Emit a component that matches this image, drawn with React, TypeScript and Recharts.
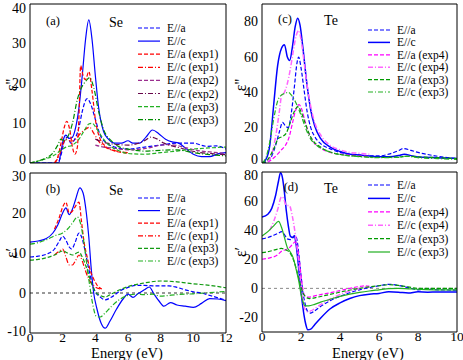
import React from 'react';
import { LineChart, Line, XAxis, YAxis, ReferenceLine } from 'recharts';

type Pt = [number, number];

// ---- Se, imaginary part (panel a) ----
const seImA: Pt[] = [[0,0],[1.7,0],[1.9,2],[2.1,5.5],[2.3,6.5],[2.5,5],[2.8,6.5],[3.0,9],[3.2,13],[3.5,16.2],[3.7,15],[4.0,11],[4.3,7],[4.7,5],[5.2,4],[6,3.5],[7,4],[8,4.5],[9,5],[10,5],[10.8,4.2],[11.4,4.3],[12,3.5]];
const seImC: Pt[] = [[0,0],[1.75,0],[1.9,3],[2.05,6],[2.2,7],[2.4,6.2],[2.6,6.5],[2.8,9],[3.0,14],[3.2,22],[3.4,31],[3.6,36],[3.8,31],[4.0,22],[4.2,14],[4.5,8],[4.8,6],[5.2,5],[5.6,5],[6.0,5.6],[6.3,5],[6.7,5],[7.1,6.5],[7.5,8.3],[7.9,7.3],[8.3,6],[8.7,5.3],[9.1,5],[9.5,3.8],[10,2.2],[10.5,1.6],[11,1.6],[11.5,2.3],[12,2.6]];
const seImAExp1: Pt[] = [[1.5,0],[1.7,1.5],[1.9,5],[2.1,9],[2.25,10.5],[2.45,8],[2.6,4],[2.75,2.2],[2.9,4],[3.0,12],[3.1,24.5],[3.25,22],[3.4,21],[3.6,23],[3.8,18],[4.0,11],[4.3,6],[4.7,4],[5.2,3],[5.7,2.6],[6,2.5]];
const seImCExp1: Pt[] = [[1.5,0],[1.8,2],[2.0,4.5],[2.2,6],[2.5,5.5],[2.8,6],[3.1,7.5],[3.4,8.5],[3.65,9],[3.9,7.5],[4.2,5.5],[4.6,4],[5.1,3.2],[5.6,2.8],[6,2.6]];
const seImAExp2: Pt[] = [[4,4.5],[4.5,4],[5,3.8],[5.5,3.5],[6,3.3],[6.5,3.4],[7,3.6],[7.5,4],[8,4.5],[8.5,4.6],[9,4.4],[9.5,3.9],[10,3.4],[10.5,3],[11,2.8],[11.5,2.6],[12,2.4]];
const seImCExp2: Pt[] = [[4,6],[4.5,5.2],[5,4.8],[5.5,4.6],[6,4.5],[6.5,4.8],[7,5.6],[7.4,6.5],[7.8,6],[8.2,5],[8.7,4.3],[9.2,3.8],[9.7,3.2],[10.3,2.7],[11,2.4],[11.5,2.2],[12,2.1]];
const seImAExp3: Pt[] = [[0,0],[0.5,0.5],[1,1.1],[1.5,2],[1.9,3.2],[2.2,4],[2.6,4.5],[3.0,6],[3.3,8],[3.6,9.8],[3.8,10],[4.1,8.5],[4.5,6],[5,4],[5.5,3],[6,2.4],[7,2.2],[8,2.6],[9,3],[10,3.5],[11,3.8],[12,4]];
const seImCExp3: Pt[] = [[0,0],[0.5,0.5],[1,1.3],[1.4,2.5],[1.7,4.5],[1.9,6],[2.1,5.5],[2.3,6.5],[2.6,10],[2.9,16],[3.1,18.5],[3.4,20.5],[3.65,21.5],[3.9,19],[4.2,13],[4.5,8.5],[5,5.5],[5.5,4],[6,3.5],[7,3],[8,3.2],[9,3.3],[10,2.6],[11,2.1],[12,1.8]];

// ---- Se, real part (panel b) ----
const seReA: Pt[] = [[0,9],[0.5,9.2],[1,9.7],[1.5,11],[1.8,13],[2.0,14.2],[2.2,13.2],[2.4,11.5],[2.55,11],[2.75,12.5],[3.0,15],[3.2,13.5],[3.4,10],[3.6,6],[3.8,2.5],[4.0,0.3],[4.3,-1],[4.6,-1.7],[5,-1],[5.5,0.5],[6,1.4],[6.5,1.9],[7,1.9],[7.5,1.8],[8,1.8],[8.5,1.8],[9,1.4],[9.5,0.8],[10,0.3],[10.5,0],[11,-0.6],[11.5,-1.2],[12,-1.8]];
const seReC: Pt[] = [[0,12.7],[0.5,13],[1,13.6],[1.4,15],[1.7,17],[2.0,20],[2.2,21.3],[2.4,19.6],[2.6,21],[2.8,23.5],[3.05,26.3],[3.25,25],[3.45,20],[3.6,14],[3.75,6],[3.9,0],[4.1,-4],[4.35,-7.5],[4.6,-8.8],[4.9,-7],[5.3,-4],[5.7,-1.5],[6.0,-0.3],[6.3,-1.1],[6.6,-0.2],[7.0,0.8],[7.3,1.5],[7.6,-0.3],[7.9,-2],[8.2,-3.3],[8.6,-2.4],[9,-3],[9.5,-3.3],[10,-3.6],[10.5,-2.6],[11,-1.4],[11.5,-1.5],[12,-1.9]];
const seReAExp1: Pt[] = [[1.5,16],[1.8,19],[2.0,21.5],[2.2,22.7],[2.4,20],[2.6,20.5],[2.8,21.8],[3.0,22.7],[3.15,18],[3.3,13],[3.5,9],[3.7,5.5],[3.9,3.5],[4.1,2],[4.4,1]];
const seReCExp1: Pt[] = [[1.5,9.5],[1.8,10.5],[2.0,11],[2.2,9],[2.4,7],[2.6,7],[2.8,8.2],[3.0,9.5],[3.2,8],[3.4,5.5],[3.6,3.5],[3.8,2.2],[4.0,1.5],[4.3,1]];
const seReAExp3: Pt[] = [[0,8.2],[0.5,8.4],[1,8.8],[1.5,9.5],[2.0,10.5],[2.3,10],[2.6,9.5],[3.0,10.2],[3.2,9],[3.4,7],[3.6,4.5],[3.8,2],[4.0,0.3],[4.3,-0.6],[4.6,-1],[5,-0.2],[5.5,0.8],[6,1.6],[7,2.5],[8,3],[9,2.8],[10,2.3],[11,1.9],[12,1.3]];
const seReCExp3: Pt[] = [[0,12.2],[0.5,12.6],[1,13.3],[1.5,14.3],[2.0,15],[2.3,16],[2.6,17.5],[2.9,19],[3.05,18],[3.25,14],[3.45,8],[3.65,2],[3.85,-3],[4.05,-5.8],[4.3,-6],[4.6,-5],[5,-3.3],[5.5,-1.6],[6,-0.6],[6.5,-0.3],[7,-0.4],[7.5,-0.3],[8,-0.8],[8.5,-0.6],[9,-0.4],[10,-0.2],[11,0.1],[12,0.4]];

// ---- Te, imaginary part (panel c) ----
const teImA: Pt[] = [[0,0],[0.3,1],[0.5,4],[0.7,10],[0.9,18],[1.05,23],[1.2,21],[1.35,20],[1.5,28],[1.65,42],[1.8,57],[1.88,60],[2.0,54],[2.15,42],[2.3,30],[2.5,20],[2.7,15],[3,11],[3.5,8],[4,6],[4.5,5],[5,4.5],[5.5,4],[6,4],[6.5,5],[7,7],[7.25,8.2],[7.6,7.3],[8,6],[8.5,4.8],[9,3.8],[9.5,3],[10,2.5]];
const teImC: Pt[] = [[0,0],[0.2,2],[0.4,10],[0.6,33],[0.8,55],[1.0,65],[1.15,67],[1.3,60],[1.42,58],[1.55,65],[1.7,77],[1.83,82],[1.95,78],[2.1,65],[2.3,45],[2.5,30],[2.7,21],[3.0,14],[3.5,9],[4,6.5],[4.5,5],[5,4.5],[5.5,4],[6,3.5],[6.5,3.5],[7,4.2],[7.3,5],[7.7,4],[8.2,3.2],[9,3],[10,2.5]];
const teImAExp4: Pt[] = [[0.3,0.5],[0.5,2],[0.8,5],[1.0,7.5],[1.2,10],[1.4,15],[1.55,22],[1.7,29],[1.9,33],[2.05,30],[2.2,24],[2.4,17],[2.6,12.5],[3,8.5],[3.5,6],[4,5],[4.5,4.5],[5,4],[5.5,3.8]];
const teImCExp4: Pt[] = [[0.3,1],[0.5,5],[0.7,15],[0.9,30],[1.0,38],[1.15,40],[1.3,45],[1.45,53],[1.6,63],[1.75,72],[1.88,75],[2.0,70],[2.15,58],[2.3,45],[2.5,32],[2.7,23],[3.0,16],[3.5,10],[4,7.5],[4.5,6],[5,5.5],[5.5,5]];
const teImAExp3: Pt[] = [[0,0],[0.3,2],[0.6,8],[0.85,14],[1.05,15],[1.25,17],[1.45,23],[1.65,29],[1.85,32],[2.0,29],[2.2,23],[2.4,17],[2.6,13],[3,9],[3.5,6.2],[4,4.8],[5,3.7],[6,3.2],[7,3.4],[7.5,3.8],[8,3.5],[9,3],[10,2.5]];
const teImCExp3: Pt[] = [[0,0],[0.2,3],[0.4,12],[0.6,25],[0.8,35],[1.0,38.5],[1.2,39.5],[1.35,40],[1.5,38.5],[1.7,35],[1.9,30],[2.1,24],[2.3,18],[2.5,13.5],[2.8,10],[3.2,7.5],[3.7,5.5],[4.2,4.5],[5,3.6],[6,3],[7,3.2],[7.4,3.8],[8,3],[9,2.5],[10,2]];

// ---- Te, real part (panel d) ----
const teReA: Pt[] = [[0,34],[0.3,35],[0.6,36.5],[0.85,38],[1.0,39],[1.15,37],[1.3,34],[1.45,33.5],[1.6,35],[1.7,36.5],[1.8,33],[1.9,22],[2.0,9],[2.1,-3],[2.2,-10],[2.35,-16],[2.5,-17],[2.7,-15.5],[3,-12.5],[3.5,-8.5],[4,-5.5],[4.5,-3],[5,-1],[5.5,0.5],[6,1.8],[6.5,2.8],[7,2],[7.5,0.5],[8,-1],[8.5,-0.6],[9,-1],[10,-1.2]];
const teReC: Pt[] = [[0,49],[0.3,51],[0.5,55],[0.7,64],[0.85,74],[0.95,79.5],[1.05,76],[1.15,66],[1.25,53],[1.35,43],[1.45,36],[1.55,35],[1.65,36],[1.75,30],[1.85,18],[1.95,4],[2.05,-8],[2.15,-18],[2.25,-25],[2.35,-28.5],[2.5,-28],[2.7,-25],[3,-20.5],[3.5,-14],[4,-10],[4.5,-7],[5,-5],[5.5,-4],[6,-3.5],[6.5,-2.3],[7,-2.6],[7.5,-3.2],[8,-2.4],[8.5,-2.6],[9,-2.5],[10,-2.5]];
const teReAExp4: Pt[] = [[0,20],[0.4,21],[0.8,23],[1.0,25.5],[1.2,26.5],[1.4,28],[1.55,30],[1.7,32],[1.8,29],[1.9,21],[2.0,9],[2.1,-1],[2.2,-5],[2.4,-6],[2.7,-5.2],[3,-4.3],[3.5,-3],[4,-1.5],[4.5,0],[5,1.3],[5.3,1.8],[5.5,1.5]];
const teReCExp4: Pt[] = [[0.4,40],[0.6,46],[0.8,54],[1.0,63],[1.1,62],[1.25,57],[1.4,57],[1.55,50],[1.7,38],[1.85,22],[1.95,8],[2.05,-4],[2.15,-12],[2.3,-16],[2.5,-15.5],[2.8,-13],[3.2,-9.5],[3.7,-6],[4.2,-3.2],[4.7,-1],[5.2,0.5],[5.5,1]];
const teReAExp3: Pt[] = [[0,24.5],[0.4,25.5],[0.8,27],[1.0,27.5],[1.2,26.5],[1.4,25],[1.6,20],[1.75,14],[1.9,6],[2.0,1],[2.1,-3],[2.25,-6],[2.45,-7],[2.8,-6.2],[3.2,-5],[3.7,-3.5],[4.2,-2],[5,0],[5.5,1],[6,1.8],[6.5,2.5],[7,2],[7.5,1],[8,0],[9,0],[10,0]];
const teReCExp3: Pt[] = [[0,36],[0.3,39],[0.6,43],[0.85,46],[1.0,42],[1.15,35],[1.3,28],[1.45,25],[1.6,21],[1.75,13],[1.9,4],[2.0,-4],[2.1,-9],[2.2,-12],[2.4,-12],[2.7,-11],[3,-9.5],[3.5,-7.5],[4,-5.5],[4.5,-4],[5,-2.8],[5.5,-1.8],[6,-1],[6.5,-0.2],[7,0],[7.5,-0.3],[8,-0.6],[9,-1],[10,-1]];

// tick labels
const seXTicks = [0, 2, 4, 6, 8, 10, 12];
const teXTicks = [0, 2, 4, 6, 8, 10];
const seImYTicks = [0, 10, 20, 30, 40];
const seReYTicks = [-10, 0, 10, 20, 30];
const teImYTicks = [0, 20, 40, 60, 80];
const teReYTicks = [-20, 0, 20, 40, 60, 80];

const W = 463;
const H = 360;
const FONT = '"Liberation Serif", "Times New Roman", serif';
const DASH = '4 2';
const DASHDOT = '5 2 1 2';

const steps = (a: number, b: number, s: number) => {
  const out: number[] = [];
  for (let v = a; v <= b + 1e-9; v += s) out.push(Math.round(v * 100) / 100);
  return out;
};

interface Series { name: string; pts: Pt[]; color: string; dash?: string; width?: number; }

const BLUE = '#0000ff';
const seImSeries: Series[] = [
  { name: 'E//a', pts: seImA, color: BLUE, dash: DASH },
  { name: 'E//c', pts: seImC, color: BLUE },
  { name: 'E//a (exp1)', pts: seImAExp1, color: '#ff0000', dash: DASH },
  { name: 'E//c (exp1)', pts: seImCExp1, color: '#ff0000', dash: DASHDOT },
  { name: 'E//a (exp2)', pts: seImAExp2, color: '#9b2f8f', dash: DASH },
  { name: 'E//c (exp2)', pts: seImCExp2, color: '#67074a', dash: DASHDOT },
  { name: 'E//a (exp3)', pts: seImAExp3, color: '#22b022', dash: DASH },
  { name: 'E//c (exp3)', pts: seImCExp3, color: '#008b00', dash: DASHDOT },
];
const seReSeries: Series[] = [
  { name: 'E//a', pts: seReA, color: BLUE, dash: DASH },
  { name: 'E//c', pts: seReC, color: BLUE },
  { name: 'E//a (exp1)', pts: seReAExp1, color: '#ff0000', dash: DASH },
  { name: 'E//c (exp1)', pts: seReCExp1, color: '#ff0000', dash: DASHDOT },
  { name: 'E//a (exp3)', pts: seReAExp3, color: '#129a12', dash: DASH },
  { name: 'E//c (exp3)', pts: seReCExp3, color: '#22b022', dash: DASHDOT },
];
const teImSeries: Series[] = [
  { name: 'E//a', pts: teImA, color: BLUE, dash: DASH },
  { name: 'E//c', pts: teImC, color: BLUE, width: 1.5 },
  { name: 'E//a (exp4)', pts: teImAExp4, color: '#ff00ff', dash: DASH },
  { name: 'E//c (exp4)', pts: teImCExp4, color: '#ff66ff', dash: DASHDOT, width: 1.5 },
  { name: 'E//a (exp3)', pts: teImAExp3, color: '#009a00', dash: DASH },
  { name: 'E//c (exp3)', pts: teImCExp3, color: '#22b022', dash: DASHDOT },
];
const teReSeries: Series[] = [
  { name: 'E//a', pts: teReA, color: BLUE, dash: DASH },
  { name: 'E//c', pts: teReC, color: BLUE, width: 1.5 },
  { name: 'E//a (exp4)', pts: teReAExp4, color: '#ff00ff', dash: DASH },
  { name: 'E//c (exp4)', pts: teReCExp4, color: '#ff66ff', dash: DASHDOT, width: 1.5 },
  { name: 'E//a (exp3)', pts: teReAExp3, color: '#009a00', dash: DASH },
  { name: 'E//c (exp3)', pts: teReCExp3, color: '#22b022' },
];

interface PanelProps {
  box: { left: number; top: number; right: number; bottom: number };
  xDomain: [number, number];
  xMajor: number[];
  xMinor: number[];
  yDomain: [number, number];
  yMajor: number[];
  yMinor: number[];
  showX: boolean;
  series: Series[];
  zero?: string;
}

const black = { stroke: '#000' };
const xLabelStyle = { fill: '#000', fontFamily: FONT, fontSize: 13.5 };

// end labels of stacked panels sit close together, nudge them apart a little
const makeYTick = (domain: [number, number], showX: boolean) => (p: any) => {
  const v = p.payload.value;
  let dy = 0;
  if (v === domain[1]) dy = showX ? 3 : 4;
  if (v === domain[0]) dy = showX ? -2 : -4;
  return (
    <text x={p.x} y={p.y + dy} textAnchor="end" dominantBaseline="central"
      fontFamily={FONT} fontSize={14} fill="#000">{v}</text>
  );
};

// axes with zero size are skipped by recharts, so the helper axes get 1px and sit mirrored inside the frame
const Panel = ({ box, xDomain, xMajor, xMinor, yDomain, yMajor, yMinor, showX, series, zero }: PanelProps) => {
  const margin = { left: box.left - 1, top: box.top, right: W - box.right, bottom: H - box.bottom - 1 };
  const common = { type: 'number' as const, allowDataOverflow: true, interval: 0 as const, tick: false as const };
  return (
    <div style={{ position: 'absolute', left: 0, top: 0 }}>
      <LineChart width={W} height={H} margin={margin}>
        <XAxis xAxisId="x" dataKey="x" type="number" domain={xDomain} ticks={xMajor} allowDataOverflow interval={0}
          height={1} axisLine={false} tickLine={false} tickSize={0} tickMargin={-1}
          tick={showX ? xLabelStyle : false} />
        <XAxis xAxisId="xbM" {...common} domain={xDomain} ticks={xMajor} orientation="bottom" mirror height={1} tickSize={6} tickLine={black} axisLine={black} />
        <XAxis xAxisId="xbm" {...common} domain={xDomain} ticks={xMinor} orientation="bottom" mirror height={1} tickSize={3} tickLine={black} axisLine={false} />
        <XAxis xAxisId="xtM" {...common} domain={xDomain} ticks={xMajor} orientation="top" mirror height={1} tickSize={6} tickLine={black} axisLine={black} />
        <XAxis xAxisId="xtm" {...common} domain={xDomain} ticks={xMinor} orientation="top" mirror height={1} tickSize={3} tickLine={black} axisLine={false} />
        <YAxis yAxisId="y" type="number" domain={yDomain} ticks={yMajor} allowDataOverflow interval={0}
          width={1} axisLine={false} tickLine={false} tickSize={0} tickMargin={4} tick={makeYTick(yDomain, showX)} />
        <YAxis yAxisId="ylM" {...common} domain={yDomain} ticks={yMajor} orientation="left" mirror width={1} tickSize={6} tickLine={black} axisLine={black} />
        <YAxis yAxisId="ylm" {...common} domain={yDomain} ticks={yMinor} orientation="left" mirror width={1} tickSize={3} tickLine={black} axisLine={false} />
        <YAxis yAxisId="yrM" {...common} domain={yDomain} ticks={yMajor} orientation="right" mirror width={1} tickSize={6} tickLine={black} axisLine={black} />
        <YAxis yAxisId="yrm" {...common} domain={yDomain} ticks={yMinor} orientation="right" mirror width={1} tickSize={3} tickLine={black} axisLine={false} />
        {zero && <ReferenceLine xAxisId="x" yAxisId="y" y={0} stroke={zero} strokeDasharray="3 3" />}
        {series.map((s) => (
          <Line key={s.name} xAxisId="x" yAxisId="y" type="monotone" data={s.pts.map(([x, y]) => ({ x, y }))}
            dataKey="y" stroke={s.color} strokeWidth={s.width ?? 1.2} strokeDasharray={s.dash}
            dot={false} activeDot={false} isAnimationActive={false} />
        ))}
      </LineChart>
    </div>
  );
};

const LegendBox = ({ series, x, y, step }: { series: Series[]; x: number; y: number; step: number }) => (
  <g>
    {series.map((s, i) => (
      <g key={s.name}>
        <line x1={x} x2={x + 22} y1={y + i * step} y2={y + i * step} stroke={s.color}
          strokeWidth={s.width ?? 1.2} strokeDasharray={s.dash} />
        <text x={x + 29} y={y + i * step + 4} fontFamily={FONT} fontSize={11.5} fill="#000">{s.name}</text>
      </g>
    ))}
  </g>
);

const Txt = ({ x, y, size, children, rotate }: { x: number; y: number; size: number; children: React.ReactNode; rotate?: boolean }) => (
  <text x={x} y={y} fontFamily={FONT} fontSize={size} fill="#000" textAnchor="middle"
    dominantBaseline="central" transform={rotate ? `rotate(-90 ${x} ${y})` : undefined}>{children}</text>
);

const AxisTitle = ({ x, children }: { x: number; children: React.ReactNode }) => (
  <text x={x} y={357.5} fontFamily={FONT} fontSize={14.5} fill="#000" textAnchor="middle">{children}</text>
);

export default function App() {
  const seXMinor = steps(0, 12, 0.5);
  const teXMinor = steps(0, 10, 0.4);
  return (
    <div style={{ position: 'absolute', left: 0, top: 0, width: W, height: H, background: '#fff' }}>
      <Panel box={{ left: 30, top: 4, right: 226, bottom: 163 }} xDomain={[0, 12]} xMajor={seXTicks} xMinor={seXMinor}
        yDomain={[0, 40]} yMajor={seImYTicks} yMinor={steps(0, 40, 2.5)} showX={false} series={seImSeries} />
      <Panel box={{ left: 30, top: 173, right: 226, bottom: 333 }} xDomain={[0, 12]} xMajor={seXTicks} xMinor={seXMinor}
        yDomain={[-10, 30]} yMajor={seReYTicks} yMinor={steps(-10, 30, 2.5)} showX series={seReSeries} zero="#333" />
      <Panel box={{ left: 262, top: 4, right: 457, bottom: 163 }} xDomain={[0, 10]} xMajor={teXTicks} xMinor={teXMinor}
        yDomain={[0, 90]} yMajor={teImYTicks} yMinor={steps(0, 90, 5)} showX={false} series={teImSeries} />
      <Panel box={{ left: 262, top: 172, right: 457, bottom: 332 }} xDomain={[0, 10]} xMajor={teXTicks} xMinor={teXMinor}
        yDomain={[-30, 80]} yMajor={teReYTicks} yMinor={steps(-30, 80, 5)} showX series={teReSeries} zero="#888" />
      <svg width={W} height={H} style={{ position: 'absolute', left: 0, top: 0 }}>
        <Txt x={53} y={21} size={12.5}>(a)</Txt>
        <Txt x={116} y={22} size={14}>Se</Txt>
        <Txt x={53} y={189} size={12.5}>(b)</Txt>
        <Txt x={116} y={190} size={14}>Se</Txt>
        <Txt x={285} y={19} size={12.5}>(c)</Txt>
        <Txt x={331} y={20} size={14}>Te</Txt>
        <Txt x={291} y={187} size={12.5}>(d)</Txt>
        <Txt x={331} y={188} size={14}>Te</Txt>
        <Txt x={11} y={85} size={16} rotate>ε''</Txt>
        <Txt x={11} y={253} size={16} rotate>ε′</Txt>
        <Txt x={240} y={85} size={16} rotate>ε''</Txt>
        <Txt x={240} y={252} size={16} rotate>ε′</Txt>
        <AxisTitle x={127}>Energy (eV)</AxisTitle>
        <AxisTitle x={368}>Energy (eV)</AxisTitle>
        <LegendBox series={seImSeries} x={138} y={28} step={13.1} />
        <LegendBox series={seReSeries} x={138} y={198} step={12.6} />
        <LegendBox series={teImSeries} x={368} y={30} step={12.4} />
        <LegendBox series={teReSeries} x={368} y={185} step={13.4} />
      </svg>
    </div>
  );
}
